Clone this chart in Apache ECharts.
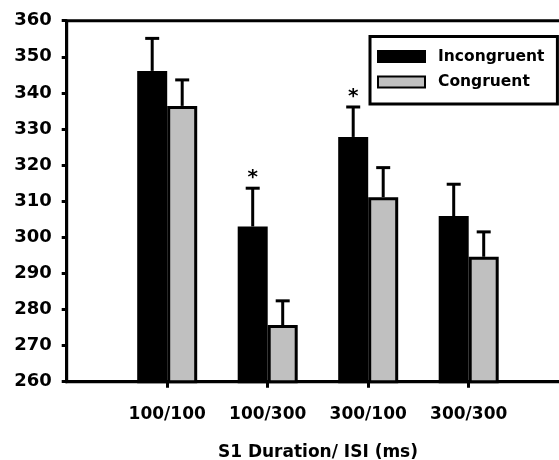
<!DOCTYPE html>
<html>
<head>
<meta charset="utf-8">
<script src="https://cdn.jsdelivr.net/npm/echarts@6/dist/echarts.min.js"></script>
<style>
  html, body { margin: 0; padding: 0; background: #fff; }
  #chart { width: 559px; height: 460px; }
</style>
</head>
<body>
<div id="chart"></div>
<script>
  // conditions (S1 duration / ISI)
  var categories = ['100/100', '100/300', '300/100', '300/300'];
  // mean RT (ms)
  var incongruent = [346.1, 303.0, 327.8, 305.9];
  var congruent = [336.4, 275.7, 311.1, 294.6];
  // error bar size (up only)
  var incongruentErr = [9.0, 10.6, 8.3, 8.8];
  var congruentErr = [7.2, 6.7, 8.2, 6.9];
  // significance markers over incongruent bars
  var signif = ['', '*', '*', ''];
  var yTicks = [260, 270, 280, 290, 300, 310, 320, 330, 340, 350, 360];

  var FONT = 'DejaVu Sans';
  var BAR_W = 30;

  // one empty slot on each side, so the group centres sit on the ticks
  var xData = [''].concat(categories, ['']);
  function pad(arr) {
    return ['-'].concat(arr, ['-']);
  }

  function errData(means, errs, marks) {
    var out = [];
    for (var i = 0; i < means.length; i++) {
      out.push([i + 1, means[i], errs[i], marks ? marks[i] : '']);
    }
    return out;
  }

  function errRender(offset) {
    return function (params, api) {
      var x = api.value(0);
      var base = api.coord([x, api.value(1)]);
      var top = api.coord([x, api.value(1) + api.value(2)]);
      var cx = base[0] + offset;
      var style = { stroke: '#000', lineWidth: 3 };
      var children = [
        { type: 'line', shape: { x1: cx, y1: base[1], x2: cx, y2: top[1] }, style: style },
        { type: 'line', shape: { x1: cx - 7, y1: top[1], x2: cx + 7, y2: top[1] }, style: style }
      ];
      var mark = api.value(3);
      if (mark) {
        children.push({
          type: 'text',
          style: {
            text: mark, x: cx, y: top[1] - 10,
            fill: '#000', font: 'bold 20px ' + FONT,
            align: 'center', verticalAlign: 'middle'
          }
        });
      }
      return { type: 'group', children: children };
    };
  }

  var myChart = echarts.init(document.getElementById('chart'));

  myChart.setOption({
    animation: false,
    backgroundColor: '#fff',
    grid: {
      left: 66.7,
      top: 20.7,
      width: 502.5,
      height: 361,
      outerBoundsMode: 'none',
      containLabel: false,
      show: true,
      borderColor: '#000',
      borderWidth: 3,
      backgroundColor: 'transparent'
    },
    legend: {
      data: ['Incongruent', 'Congruent'],
      orient: 'vertical',
      left: 370,
      top: 36.5,
      padding: [12, 13, 14, 7],
      itemWidth: 47,
      itemHeight: 11,
      itemGap: 9.5,
      backgroundColor: '#fff',
      borderColor: '#000',
      borderWidth: 3,
      borderRadius: 0,
      icon: 'rect',
      textStyle: {
        fontFamily: FONT,
        fontWeight: 'bold',
        fontSize: 15.5,
        lineHeight: 16,
        color: '#000',
        padding: [0, 0, 0, 8]
      }
    },
    xAxis: {
      type: 'category',
      data: xData,
      boundaryGap: false,
      name: 'S1 Duration/ ISI (ms)',
      nameLocation: 'middle',
      nameGap: 62,
      nameTextStyle: { fontFamily: FONT, fontWeight: 'bold', fontSize: 17, color: '#000' },
      axisLine: { lineStyle: { color: '#000', width: 3 } },
      axisTick: {
        length: 6,
        interval: function (i) { return i > 0 && i < xData.length - 1; },
        lineStyle: { color: '#000', width: 3 }
      },
      axisLabel: {
        interval: 0,
        margin: 24,
        fontFamily: FONT, fontWeight: 'bold', fontSize: 17, color: '#000'
      },
      splitLine: { show: false }
    },
    yAxis: {
      type: 'value',
      min: yTicks[0],
      max: yTicks[yTicks.length - 1],
      interval: 10,
      axisLine: { show: true, lineStyle: { color: '#000', width: 3 } },
      axisTick: { show: true, length: 5, lineStyle: { color: '#000', width: 3 } },
      axisLabel: {
        margin: 15,
        fontFamily: FONT, fontWeight: 'bold', fontSize: 18, color: '#000'
      },
      splitLine: { show: false }
    },
    series: [
      {
        name: 'Incongruent',
        type: 'bar',
        data: pad(incongruent),
        barWidth: BAR_W,
        barGap: '0%',
        itemStyle: { color: '#000', borderColor: '#000', borderWidth: 3 }
      },
      {
        name: 'Congruent',
        type: 'bar',
        data: pad(congruent),
        barWidth: BAR_W,
        barGap: '0%',
        itemStyle: { color: '#c0c0c0', borderColor: '#000', borderWidth: 3 }
      },
      {
        type: 'custom',
        renderItem: errRender(-BAR_W / 2),
        data: errData(incongruent, incongruentErr, signif),
        z: 5,
        silent: true
      },
      {
        type: 'custom',
        renderItem: errRender(BAR_W / 2),
        data: errData(congruent, congruentErr),
        z: 5,
        silent: true
      }
    ]
  });
</script>
</body>
</html>
